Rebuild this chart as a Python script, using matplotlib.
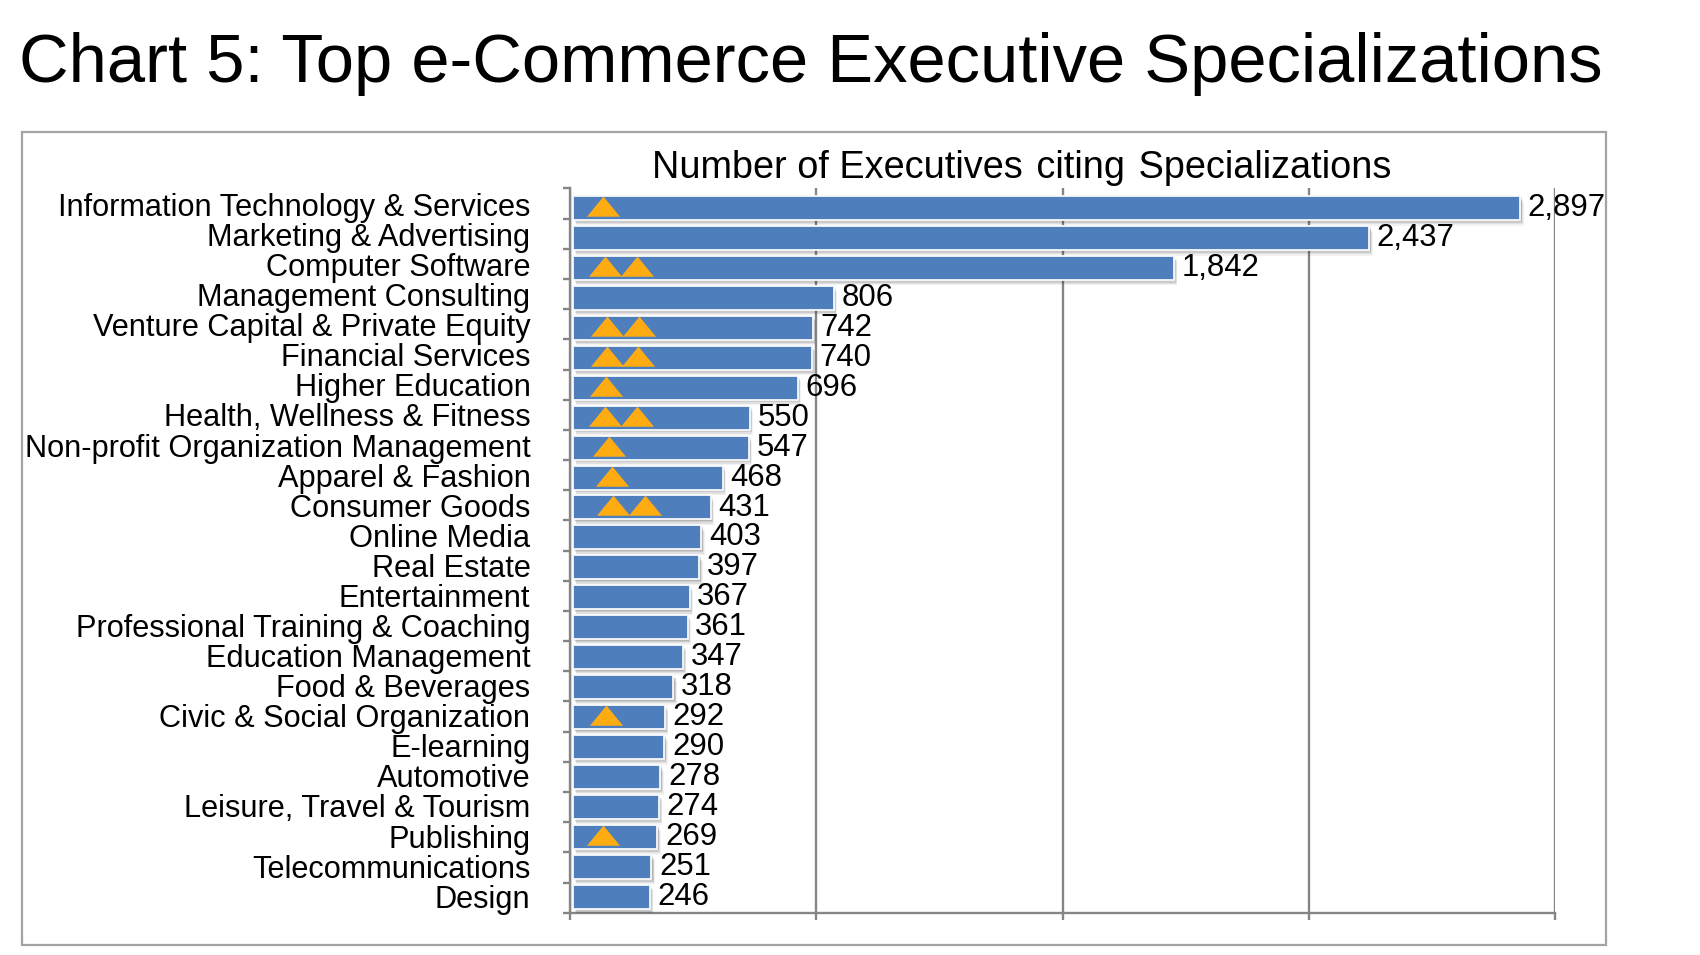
import matplotlib
matplotlib.use("Agg")
import matplotlib.pyplot as plt
import matplotlib.patheffects as pe
from matplotlib.patches import Rectangle

plt.rcParams['font.family'] = ['Liberation Sans', 'DejaVu Sans']

categories = ["Information Technology & Services", "Marketing & Advertising", "Computer Software",
              "Management Consulting", "Venture Capital & Private Equity", "Financial Services",
              "Higher Education", "Health, Wellness & Fitness", "Non-profit Organization Management",
              "Apparel & Fashion", "Consumer Goods", "Online Media", "Real Estate", "Entertainment",
              "Professional Training & Coaching", "Education Management", "Food & Beverages",
              "Civic & Social Organization", "E-learning", "Automotive", "Leisure, Travel & Tourism",
              "Publishing", "Telecommunications", "Design"]
values = [2897, 2437, 1842, 806, 742, 740, 696, 550, 547, 468, 431, 403, 397, 367, 361, 347, 318,
          292, 290, 278, 274, 269, 251, 246]
# Rows carrying triangle markers, and their x-positions on the value scale
triangle_rows = [0, 2, 2, 4, 4, 5, 5, 6, 7, 7, 8, 9, 10, 10, 17, 21]
triangle_x = [100, 107, 204, 114, 210, 113, 208, 110, 107, 204, 119, 128, 130, 227, 110, 100]
x_ticks = [0, 750, 1500, 2250, 3000]
title = "Chart 5: Top e-Commerce Executive Specializations"
subtitle = "Number of Executives \u200aciting \u200aSpecializations"

W, H = 1700, 955
fig = plt.figure(figsize=(W / 100, H / 100), dpi=100, facecolor='white')

# frame
fig.add_artist(Rectangle((22 / W, 1 - 945 / H), (1606 - 22) / W, (945 - 132) / H, transform=fig.transFigure,
                         fill=False, ec='#A3A3A3', lw=1.6))
fig.text(19 / W, 1 - 82 / H, title, fontsize=49.5, color='black', ha='left', va='baseline')

L, R, T, B = 570, 1555, 188.5, 912.7
ax = fig.add_axes([L / W, 1 - B / H, (R - L) / W, (B - T) / H])
ROW = 29.95          # bar pitch in px
TOP0 = 208.0         # first bar centre in px
ax.set_xlim(0, 3000)
ax.set_ylim((B - TOP0) / ROW, (T - TOP0) / ROW)

GREY = '#858585'
for s in ('top', 'right'):
    ax.spines[s].set_visible(False)
for s in ('left', 'bottom'):
    ax.spines[s].set_color(GREY)
    ax.spines[s].set_linewidth(1.7)

ax.set_xticks(x_ticks)
ax.tick_params(axis='x', length=5, width=1.7, color=GREY, labelbottom=False)
ax.xaxis.grid(True, color=GREY, lw=1.7)
ax.set_axisbelow(True)

# category labels follow a slightly wider pitch than the bars
LABEL_ROW = 30.08
LABEL_TOP = 204.4
rows = list(range(len(values)))
ax.set_yticks([(LABEL_TOP + i * LABEL_ROW - TOP0) / ROW for i in rows], categories)
ax.tick_params(axis='y', which='major', length=0, pad=28.5, labelsize=22.15, labelcolor='black')
ax.set_yticks([(T + k * (B - T) / 24 - TOP0) / ROW for k in range(25)], minor=True)
ax.tick_params(axis='y', which='minor', length=5, width=1.7, color=GREY)

inset = 9
shadow = [pe.SimplePatchShadow(offset=o, shadow_rgbFace='black', alpha=a, rho=1)
          for o, a in (((2.5, -4), .05), ((2, -3), .07), ((1.5, -2), .09), ((1, -1), .1))] + [pe.Normal()]
bars = ax.barh(rows, [v - inset - 3 for v in values], left=inset, height=24 / ROW,
               color='#4E7FBC', edgecolor='#F7F9FC', linewidth=1.3, zorder=3)
for b in bars:
    b.set_path_effects(shadow)

for i, v in enumerate(values):
    ax.annotate(f"{v:,}", (v, i), xytext=(4.8, 0), textcoords='offset points', ha='left',
                va='center', fontsize=22.4, color='black', zorder=5, annotation_clip=False)

tri = [(-1, -0.5), (1, -0.5), (0, 0.72)]
ax.scatter(triangle_x, triangle_rows, marker=tri, s=566, color='#FFAB12', linewidths=0, zorder=4)

fig.text(652 / W, 1 - 178 / H, subtitle, fontsize=27.3, color='black', ha='left', va='baseline')

fig.savefig('out.png', dpi=100, facecolor='white')
